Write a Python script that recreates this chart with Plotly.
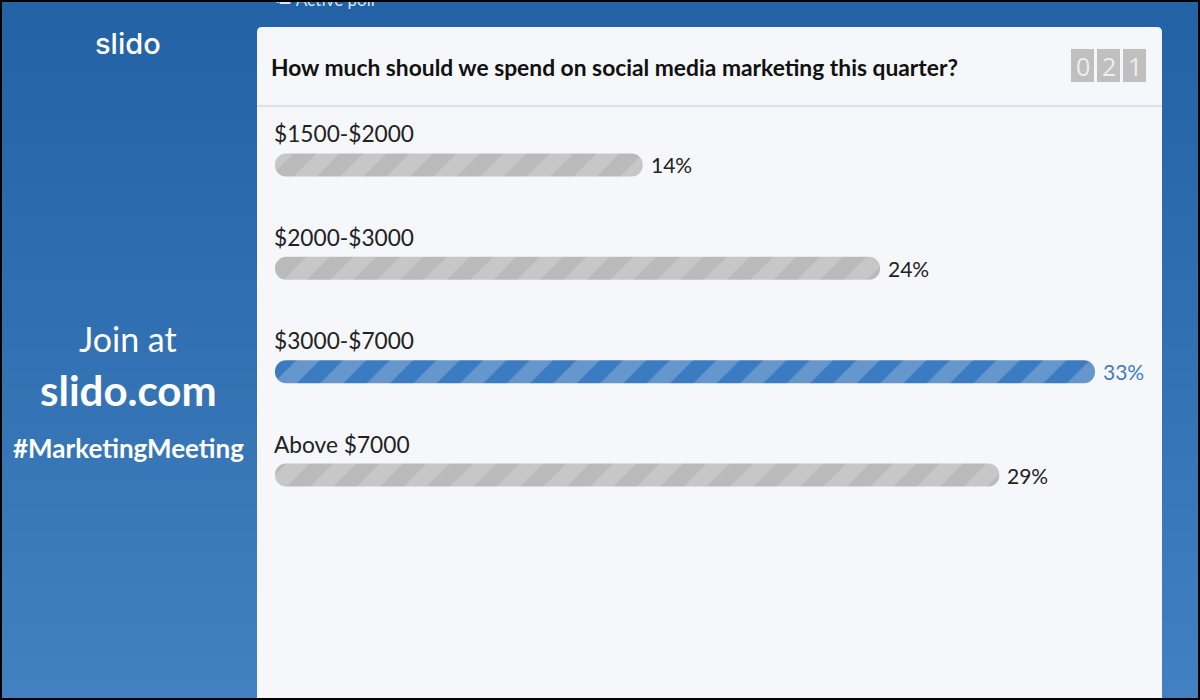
import plotly.graph_objects as go

# poll data
options = ["$1500-$2000", "$2000-$3000", "$3000-$7000", "Above $7000"]
percent_labels = ["14%", "24%", "33%", "29%"]
# drawn bar lengths, these do not quite follow the printed labels in the source
bar_lengths = [14.8, 24.35, 33.0, 29.15]
vote_digits = ["0", "2", "1"]

W, H = 1200, 700
FONT = "Lato"
top_idx = percent_labels.index("33%")


def px(x):
    return x / W


def py(y):
    return 1 - y / H


def mix(c0, c1, t):
    return "rgb(%d,%d,%d)" % tuple(round(a + (b - a) * t) for a, b in zip(c0, c1))


def rect(x0, y0, x1, y1, color, layer="below", line_color=None, line_width=0):
    return dict(type="rect", xref="paper", yref="paper", x0=px(x0), x1=px(x1),
                y0=py(y0), y1=py(y1), fillcolor=color, layer=layer,
                line=dict(color=line_color, width=line_width))


def label(x, y, text, size, color="white", weight="normal", anchor="center", family=FONT):
    return dict(xref="paper", yref="paper", x=px(x), y=py(y), text=text,
                showarrow=False, xanchor=anchor, yanchor="middle",
                font=dict(family=family, size=size, color=color, weight=weight))


# background gradient as thin strips
shapes = []
for i in range(70):
    shapes.append(rect(0, i * 10, W, (i + 1) * 10 + 1,
                       mix((34, 98, 165), (65, 129, 193), i / 69)))

# white card with rounded top corners
r = 5
card_path = (
    f"M {px(257)} {py(700)} L {px(257)} {py(27 + r)} "
    f"Q {px(257)} {py(27)} {px(257 + r)} {py(27)} "
    f"L {px(1162 - r)} {py(27)} Q {px(1162)} {py(27)} {px(1162)} {py(27 + r)} "
    f"L {px(1162)} {py(700)} Z"
)
shapes.append(dict(type="path", xref="paper", yref="paper", path=card_path,
                   fillcolor="#f5f7fa", line=dict(width=0), layer="below"))
shapes.append(rect(257, 105.5, 1162, 106.5, "#c4c7cb"))

# vote counter boxes
annotations = []
for i, d in enumerate(vote_digits):
    x0 = 1071 + i * 26
    shapes.append(rect(x0, 49, x0 + 23, 82, "#bfbfbf"))
    annotations.append(label(x0 + 11.5, 66, d, 25, color="#eeeeee", family="Open Sans"))

# black edge of the screenshot
shapes.append(rect(0, 0, W, H, "rgba(0,0,0,0)", layer="above",
                   line_color="#000000", line_width=4))

# left panel and question
annotations += [
    label(128, 44, "slido", 29, weight=500, family="Inter"),
    label(128, 338, "Join at", 34),
    label(128, 390, "slido.com", 42, weight="bold"),
    label(128, 448, "#MarketingMeeting", 26, weight="bold"),
    label(269, 67, "How much should we spend on social media marketing this quarter?",
          22.8, color="#111111", weight="bold", anchor="left"),
]

# option names above the bars and percentages beside them
for i, name in enumerate(options):
    annotations.append(dict(xref="x", yref="y", x=0, y=name, text=name, showarrow=False,
                            xanchor="left", yanchor="middle", yshift=31, xshift=-3,
                            font=dict(family=FONT, size=22.7, color="#222222")))
    annotations.append(dict(xref="x", yref="y", x=bar_lengths[i], y=name,
                            text=percent_labels[i], showarrow=False, xanchor="left",
                            yanchor="middle", xshift=6,
                            font=dict(family=FONT, size=21,
                                      color="#3f7dbf" if i == top_idx else "#222222")))

fig = go.Figure()

# one trace per bar, an explicit base makes plotly round both ends
for i, name in enumerate(options):
    bg = "#3a7bc2" if i == top_idx else "#bababa"
    fg = "#6597cd" if i == top_idx else "#c7c7c7"
    fig.add_trace(go.Bar(
        x=[bar_lengths[i]],
        y=[name],
        base=[0],
        orientation="h",
        hoverinfo="skip",
        marker=dict(
            color=bg,
            cornerradius=11,
            line=dict(width=0),
            pattern=dict(shape="/", bgcolor=bg, fgcolor=fg, fgopacity=1,
                         size=33, solidity=0.5),
        ),
    ))

# clipped tab name at the very top, on a hidden pixel axis so the edge can cover it
fig.add_trace(go.Scatter(
    x=[275], y=[2], mode="text", text=["≔ Active poll"], textposition="middle right",
    textfont=dict(family=FONT, size=17, color="#dbe6f2"),
    xaxis="x2", yaxis="y2", hoverinfo="skip", cliponaxis=False,
))

fig.update_layout(
    width=W,
    height=H,
    margin=dict(l=0, r=0, t=0, b=0),
    showlegend=False,
    paper_bgcolor="#2262a5",
    plot_bgcolor="rgba(0,0,0,0)",
    barmode="overlay",
    bargap=0.778,
    shapes=shapes,
    annotations=annotations,
    xaxis=dict(domain=[px(275), px(1095)], range=[0, 33], visible=False, fixedrange=True),
    yaxis=dict(domain=[py(526.7), py(113.3)], categoryorder="array", categoryarray=options,
               range=[3.5, -0.5], visible=False, fixedrange=True),
    xaxis2=dict(domain=[0, 1], range=[0, W], visible=False, anchor="y2", fixedrange=True),
    yaxis2=dict(domain=[0, 1], range=[H, 0], visible=False, anchor="x2", fixedrange=True),
)

fig.write_html("out.html", config=dict(displayModeBar=False),
               post_script="document.body.style.margin='0';document.body.style.overflow='hidden';")
